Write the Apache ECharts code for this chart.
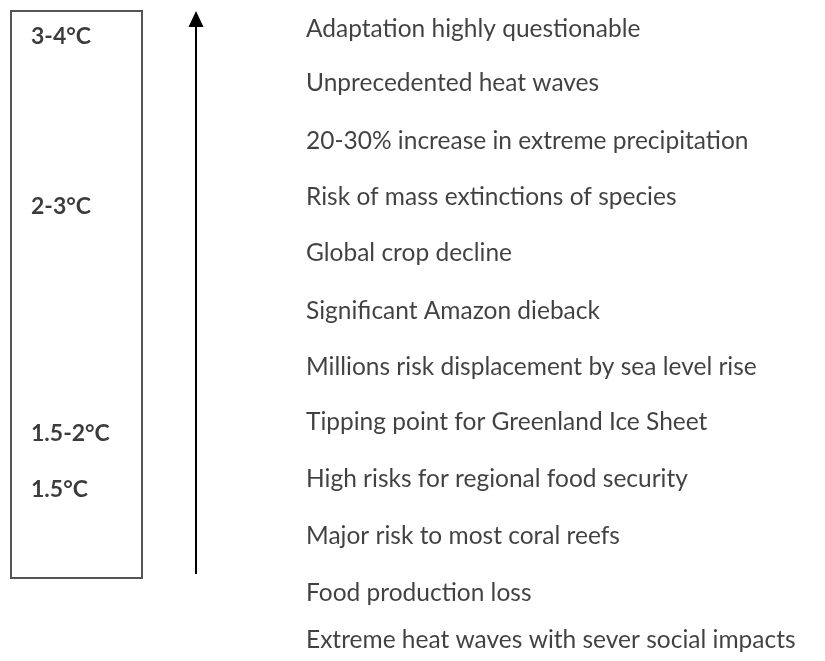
<!DOCTYPE html>
<html>
<head>
<meta charset="utf-8">
<title>Warming levels and impacts</title>
<script src="https://cdn.jsdelivr.net/npm/echarts@6/dist/echarts.min.js"></script>
<style>
html, body { margin: 0; padding: 0; background: #fff; }
#main { width: 825px; height: 661px; }
</style>
</head>
<body>
<div id="main"></div>
<script>
// warming levels, shown in the box (position = place on the vertical scale, px from top)
const tempLabels = ['3-4°C', '2-3°C', '1.5-2°C', '1.5°C'];
const tempPos = [37, 207, 434, 490];

// impacts, top to bottom
const impacts = [
  'Adaptation highly questionable',
  'Unprecedented heat waves',
  '20-30% increase in extreme precipitation',
  'Risk of mass extinctions of species',
  'Global crop decline',
  'Significant Amazon dieback',
  'Millions risk displacement by sea level rise',
  'Tipping point for Greenland Ice Sheet',
  'High risks for regional food security',
  'Major risk to most coral reefs',
  'Food production loss',
  'Extreme heat waves with sever social impacts'
];
const impactPos = [29, 83, 141, 197, 253, 311, 367, 422, 479, 536, 593, 640];

// box and arrow extent on the same scale
const boxTop = 11, boxBottom = 578;
const arrowTop = 19, arrowBottom = 574;

const chart = echarts.init(document.getElementById('main'));

const option = {
  animation: false,
  backgroundColor: '#fff',
  grid: { left: 0, right: 0, top: 0, bottom: 0 },
  xAxis: { type: 'value', min: 0, max: 825, show: false },
  yAxis: { type: 'value', min: 0, max: 661, inverse: true, show: false },
  series: [
    {
      // temperature labels inside the box
      name: 'levels',
      type: 'scatter',
      symbolSize: 0,
      data: tempLabels.map((t, i) => ({ name: t, value: [31, tempPos[i]] })),
      label: {
        show: true,
        position: 'right',
        distance: 0,
        formatter: '{b}',
        fontFamily: 'Lato',
        fontWeight: 'bold',
        fontSize: 23,
        color: '#0a0a0a'
      },
      markArea: {
        silent: true,
        itemStyle: { color: 'rgba(0,0,0,0)', borderColor: '#555', borderWidth: 2 },
        data: [[{ coord: [11, boxTop] }, { coord: [142, boxBottom] }]]
      }
    },
    {
      // impact list on the right
      name: 'impacts',
      type: 'scatter',
      symbolSize: 0,
      data: impacts.map((t, i) => ({ name: t, value: [306, impactPos[i]] })),
      label: {
        show: true,
        position: 'right',
        distance: 0,
        formatter: '{b}',
        fontFamily: 'Lato',
        fontSize: 24.5,
        color: '#111'
      },
      markLine: {
        silent: true,
        symbol: ['none', 'triangle'],
        symbolSize: [15, 16],
        label: { show: false },
        lineStyle: { color: '#000', width: 2, type: 'solid' },
        data: [[{ coord: [196, arrowBottom] }, { coord: [196, arrowTop] }]]
      }
    }
  ]
};

chart.setOption(option);
</script>
</body>
</html>
